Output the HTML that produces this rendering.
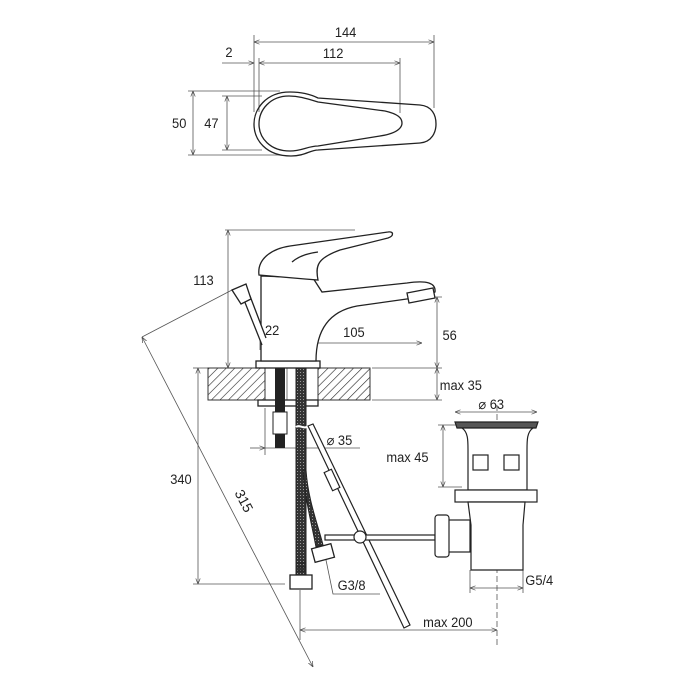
<!DOCTYPE html>
<html><head><style>html,body{margin:0;padding:0;background:#fff}svg{display:block}text{font-family:"Liberation Sans",sans-serif;font-size:14px;fill:#222}</style></head><body>
<svg width="700" height="700" viewBox="0 0 700 700" xmlns="http://www.w3.org/2000/svg">
<defs>
<marker id="a" viewBox="0 0 10 10" refX="10" refY="5" markerWidth="7" markerHeight="7" orient="auto-start-reverse"><path d="M0,1 L10,5 L0,9" fill="none" stroke="#444" stroke-width="1.2"/></marker>
<pattern id="h" width="6" height="6" patternUnits="userSpaceOnUse" patternTransform="rotate(45)"><line x1="0" y1="0" x2="0" y2="6" stroke="#222" stroke-width="1.2"/></pattern>
<pattern id="m" width="3" height="3" patternUnits="userSpaceOnUse"><rect width="3" height="3" fill="#333"/><rect width="1" height="1" fill="#999"/></pattern>
</defs>
<g stroke="#555" stroke-width="0.8" fill="none">
<line x1="254" y1="35" x2="254" y2="112"/><line x1="434" y1="35" x2="434" y2="108"/>
<line x1="254" y1="42" x2="434" y2="42" marker-start="url(#a)" marker-end="url(#a)"/>
<line x1="259" y1="58" x2="259" y2="112"/><line x1="400" y1="58" x2="400" y2="113"/>
<line x1="222" y1="63" x2="254" y2="63" marker-end="url(#a)"/>
<line x1="259" y1="63" x2="400" y2="63" marker-start="url(#a)" marker-end="url(#a)"/>
<line x1="188" y1="91" x2="280" y2="91"/><line x1="188" y1="155" x2="280" y2="155"/>
<line x1="193" y1="91" x2="193" y2="155" marker-start="url(#a)" marker-end="url(#a)"/>
<line x1="222" y1="96" x2="262" y2="96"/><line x1="222" y1="150" x2="262" y2="150"/>
<line x1="227" y1="96" x2="227" y2="150" marker-start="url(#a)" marker-end="url(#a)"/>
<line x1="225" y1="230" x2="355" y2="230"/>
<line x1="228" y1="230" x2="228" y2="368" marker-start="url(#a)" marker-end="url(#a)"/>
<line x1="260" y1="338" x2="260" y2="350"/><line x1="287" y1="338" x2="287" y2="405"/>
<line x1="260" y1="343" x2="287" y2="343" marker-start="url(#a)" marker-end="url(#a)"/>
<line x1="287" y1="343" x2="422" y2="343" marker-start="url(#a)" marker-end="url(#a)"/>
<line x1="415" y1="297" x2="442" y2="297"/>
<line x1="437" y1="297" x2="437" y2="368" marker-start="url(#a)" marker-end="url(#a)"/>
<line x1="372" y1="368" x2="442" y2="368"/><line x1="372" y1="400" x2="442" y2="400"/>
<line x1="437" y1="368" x2="437" y2="400" marker-start="url(#a)" marker-end="url(#a)"/>
<line x1="193" y1="368" x2="208" y2="368"/><line x1="193" y1="584" x2="285" y2="584"/>
<line x1="198" y1="368" x2="198" y2="584" marker-start="url(#a)" marker-end="url(#a)"/>
<line x1="142" y1="337" x2="232" y2="290"/>
<line x1="142" y1="337" x2="313" y2="667" marker-start="url(#a)" marker-end="url(#a)"/>
<line x1="265" y1="408" x2="265" y2="455"/>
<line x1="250" y1="448" x2="265" y2="448" marker-end="url(#a)"/><line x1="265" y1="448" x2="360" y2="448"/>
<line x1="455" y1="412" x2="537" y2="412" marker-start="url(#a)" marker-end="url(#a)"/>
<line x1="438" y1="425" x2="462" y2="425"/><line x1="438" y1="487" x2="462" y2="487"/>
<line x1="443" y1="425" x2="443" y2="487" marker-start="url(#a)" marker-end="url(#a)"/>
<line x1="470" y1="570" x2="470" y2="593"/><line x1="523" y1="570" x2="523" y2="593"/>
<line x1="470" y1="588" x2="523" y2="588" marker-start="url(#a)" marker-end="url(#a)"/>
<line x1="300" y1="590" x2="300" y2="640"/>
<line x1="300" y1="630" x2="497" y2="630" marker-start="url(#a)" marker-end="url(#a)"/>
<polyline points="326,560 333,594 380,594"/>
<line x1="497" y1="405" x2="497" y2="645" stroke-dasharray="6,3"/>
</g>
<g stroke="#222" stroke-width="1.3" fill="none">
<path d="M290,92 C265,92 254,110 254,124 C254,140 266,156 291,156 C305,156 310,150 318,150 L420,143 C432,142 436,132 436,124 C436,115 432,106 420,105 L318,98 C310,94 300,92 290,92 Z"/>
<path d="M289,96 C270,96 259,110 259,124 C259,138 270,151 290,151 C302,151 308,146 318,146 L380,136 C400,133 402,126 402,123 C402,118 398,114 385,111 L318,102 C305,98 298,96 289,96 Z"/>
</g>
<rect x="208" y="368" width="57" height="32" fill="url(#h)" stroke="#333"/>
<rect x="318" y="368" width="52" height="32" fill="url(#h)" stroke="#333"/>
<line x1="208" y1="368" x2="370" y2="368" stroke="#333"/><line x1="208" y1="400" x2="370" y2="400" stroke="#333"/>
<g stroke="#222" stroke-width="1.3" fill="#fff">
<rect x="256" y="361" width="64" height="7"/>
<path d="M261,361 L261,276 L313,278 L322,292 L407,283 C427,280 436,283 435,292 L428,296 L357,306 C325,312 316,335 316,361 Z"/>
<path d="M259,275 C257,260 270,249 290,246 L388,232 C394,231 394,236 388,238 L340,250 C318,258 315,265 318,280 L305,279 Z"/>
<path d="M292,262 C300,255 310,253 318,252" fill="none"/>
<path d="M407,293 L433,288 L435,298 L409,303 Z"/>
<rect x="258" y="400" width="60" height="6"/>
<path d="M262,345 L244,300 L250,296 L266,338"/>
<path d="M232,290 L246,284 L251,299 L241,304 Z"/>
</g>
<rect x="275" y="368" width="10" height="80" fill="#222"/>
<rect x="273" y="412" width="14" height="22" fill="#fff" stroke="#222"/>
<path d="M296,368 L306,368 L306,575 L296,575 Z" fill="url(#m)" stroke="#222"/>
<path d="M306,470 C308,500 318,525 323,545 L316,547 C312,525 305,500 303,470 Z" fill="url(#m)" stroke="#222"/>
<path d="M296,427 C300,424 304,430 308,426" stroke="#fff" stroke-width="2" fill="none"/>
<g stroke="#222" stroke-width="1"><line x1="296" y1="563" x2="306" y2="563"/><line x1="296" y1="567" x2="306" y2="567"/><line x1="296" y1="571" x2="306" y2="571"/></g>
<rect x="290" y="575" width="22" height="14" fill="#fff" stroke="#222" stroke-width="1.3"/>
<rect x="313" y="546" width="20" height="14" fill="#fff" stroke="#222" stroke-width="1.3" transform="rotate(-15 323 553)"/>
<g stroke="#222" stroke-width="1.2" fill="#fff">
<path d="M308,426 L313,424 L410,625 L404,628 Z"/>
<rect x="328" y="470" width="8" height="20" transform="rotate(-25 332 480)"/>
<rect x="325" y="535" width="110" height="5"/>
<circle cx="360" cy="537" r="6"/>
<path d="M455,422 L538,422 L536,428 L457,428 Z" fill="#555"/>
<path d="M462,428 C468,432 468,440 468,450 L468,490 L527,490 L527,450 C527,440 527,432 533,428 Z"/>
<rect x="473" y="455" width="15" height="15"/><rect x="504" y="455" width="15" height="15"/>
<rect x="455" y="490" width="82" height="12"/>
<path d="M468,502 L525,502 L523,525 L523,570 L471,570 L471,525 Z"/>
<rect x="445" y="520" width="25" height="32"/>
<rect x="435" y="515" width="14" height="42" rx="3"/>
</g>
<g transform="scale(0.92,1)">
<text x="364" y="37">144</text>
<text x="245" y="57">2</text>
<text x="351" y="58">112</text>
<text x="187" y="128">50</text>
<text x="222" y="128">47</text>
<text x="210" y="285">113</text>
<text x="288" y="335">22</text>
<text x="373" y="337">105</text>
<text x="481" y="340">56</text>
<text x="478" y="390">max 35</text>
<text x="355" y="445">⌀ 35</text>
<text x="520" y="409">⌀ 63</text>
<text x="420" y="462">max 45</text>
<text x="185" y="484">340</text>
<text x="367" y="590">G3/8</text>
<text x="571" y="585">G5/4</text>
<text x="460" y="627">max 200</text>
</g>
<text x="230" y="500" transform="rotate(62 238 500)">315</text>
</svg>
</body></html>
